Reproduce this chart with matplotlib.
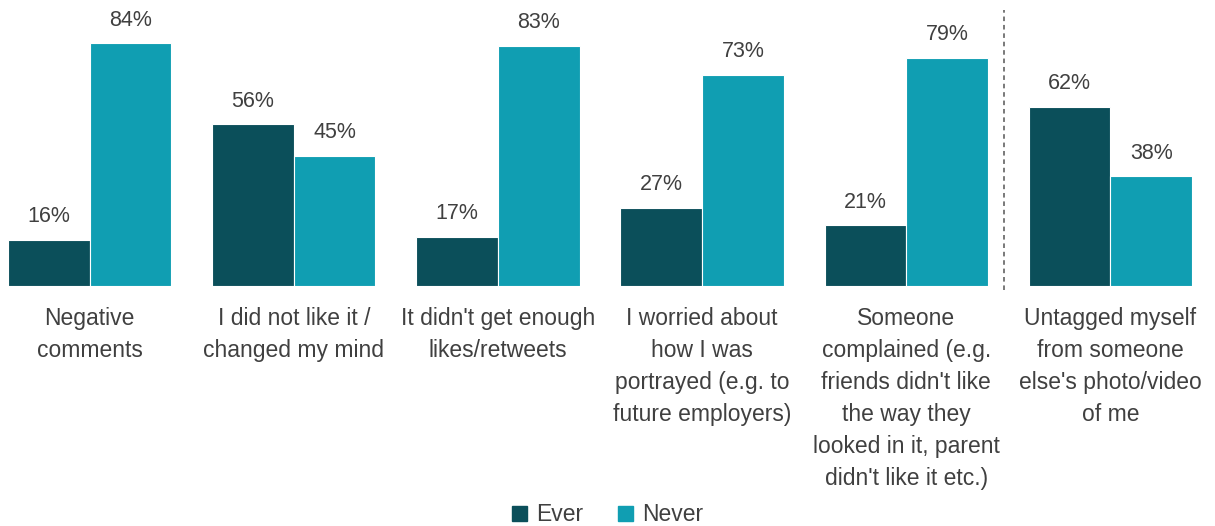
import matplotlib
matplotlib.use("Agg")
import matplotlib.pyplot as plt
from matplotlib.patches import Patch
import numpy as np

categories = [
    "Negative\ncomments",
    "I did not like it /\nchanged my mind",
    "It didn't get enough\nlikes/retweets",
    "I worried about\nhow I was\nportrayed (e.g. to\nfuture employers)",
    "Someone\ncomplained (e.g.\nfriends didn't like\nthe way they\nlooked in it, parent\ndidn't like it etc.)",
    "Untagged myself\nfrom someone\nelse's photo/video\nof me",
]
ever = [16, 56, 17, 27, 21, 62]
never = [84, 45, 83, 73, 79, 38]
series_names = ["Ever", "Never"]

col_ever = "#0B4F5A"
col_never = "#109EB2"
text_col = "#404040"

plt.rcParams["font.family"] = ["Liberation Sans", "DejaVu Sans"]

W, H = 1215, 526
fig = plt.figure(figsize=(W / 100, H / 100), dpi=100)
ax = fig.add_axes([8 / W, (H - 286) / H, (1192 - 8) / W, 286 / H])

x = np.arange(len(categories))
bw = 0.4
b1 = ax.bar(x - bw / 2, ever, bw, color=col_ever, edgecolor="white", linewidth=0.8)
b2 = ax.bar(x + bw / 2, never, bw, color=col_never, edgecolor="white", linewidth=0.8)

for bars, vals in ((b1, ever), (b2, never)):
    for rect, v in zip(bars, vals):
        ax.annotate(f"{v}%", (rect.get_x() + rect.get_width() / 2, v),
                    xytext=(0, 9), textcoords="offset points",
                    ha="center", va="bottom", fontsize=15.5, color=text_col)

ax.set_xlim(-0.4, len(categories) - 0.6)
ax.set_ylim(0, 98.9)
ax.set_xticks(x)
ax.set_xticklabels(categories, fontsize=16.5, color=text_col, linespacing=1.5)
ax.tick_params(axis="x", length=0, pad=15)
ax.set_yticks([])
for s in ax.spines.values():
    s.set_visible(False)

# separator before the last category
ax.plot([4.48, 4.48], [-1.5, 95.5], color="#555555", linestyle=(0, (3, 2.5)),
        linewidth=1.1, clip_on=False)

handles = [Patch(color=col_ever), Patch(color=col_never)]
fig.legend(handles, series_names, loc="lower center", bbox_to_anchor=(0.5, -0.04),
           ncol=2, frameon=False, fontsize=16.5, handlelength=0.65, handleheight=0.65,
           handletextpad=0.4, columnspacing=1.5, labelcolor=text_col)

fig.savefig("out.png", dpi=100)
